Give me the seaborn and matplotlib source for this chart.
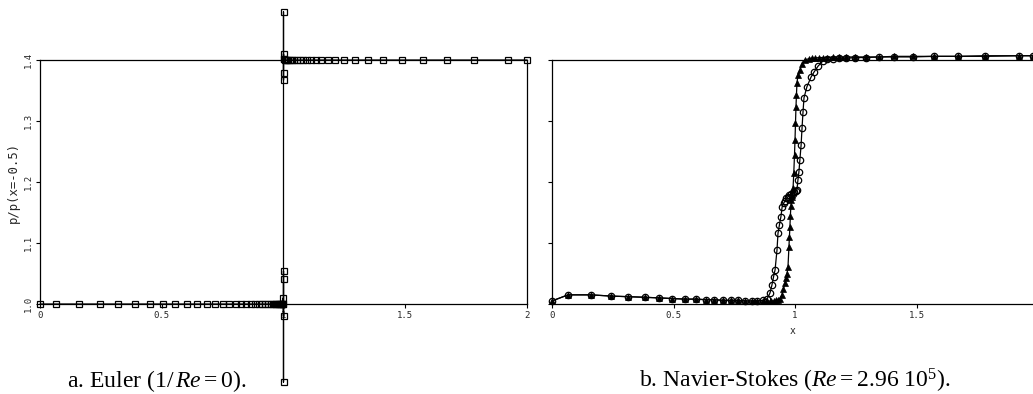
import matplotlib
matplotlib.use("Agg")
import matplotlib.pyplot as plt
import seaborn as sns
import pandas as pd

# ---------------- data ----------------
# (a) Euler solution, 1/Re = 0  (square markers)
euler_x = [0.0, 0.066, 0.16, 0.246, 0.32, 0.39, 0.45, 0.505, 0.554, 0.604, 0.645, 0.686,
           0.719, 0.75, 0.778, 0.803, 0.826, 0.847, 0.866, 0.883, 0.899, 0.913, 0.926,
           0.937, 0.947, 0.956, 0.964, 0.971, 0.977, 0.982, 0.986, 0.99, 0.993, 0.996,
           0.998, 0.999, 1.0, 1.0, 1.0, 1.0, 1.0, 1.0, 1.0, 1.0, 1.001, 1.002, 1.005,
           1.009, 1.014, 1.02, 1.027, 1.035, 1.045, 1.056, 1.068, 1.082, 1.097, 1.114,
           1.133, 1.155, 1.183, 1.211, 1.248, 1.294, 1.347, 1.409, 1.487, 1.573, 1.671,
           1.782, 1.922, 2.0]
euler_y = [1.0, 1.0, 1.0, 1.0, 1.0, 1.0, 1.0, 1.0, 1.0, 1.0, 1.0, 1.0,
           1.0, 1.0, 1.0, 1.0, 1.0, 1.0, 1.0, 1.0, 1.0, 1.0, 1.0,
           1.0, 1.0, 1.0, 1.0, 1.0, 1.0, 1.0, 1.0, 1.0, 1.0, 1.0,
           1.0, 1.01, 0.98, 1.054, 1.041, 0.872, 1.479, 1.367, 1.379, 1.41, 1.402, 1.401, 1.4,
           1.4, 1.4, 1.4, 1.4, 1.4, 1.4, 1.4, 1.4, 1.4, 1.4, 1.4,
           1.4, 1.4, 1.4, 1.4, 1.4, 1.4, 1.4, 1.4, 1.4, 1.4, 1.4,
           1.4, 1.4, 1.4]

# (b) Navier-Stokes, Re = 2.96e5 : open circles
ns_circ_x = [0.0, 0.066, 0.16, 0.243, 0.313, 0.383, 0.44, 0.494, 0.547, 0.593, 0.634, 0.667,
             0.704, 0.737, 0.765, 0.794, 0.823, 0.844, 0.868, 0.885, 0.897, 0.905, 0.912,
             0.918, 0.926, 0.93, 0.936, 0.942, 0.947, 0.953, 0.959, 0.965, 0.971, 0.977,
             0.983, 0.99, 0.997, 1.003, 1.008, 1.012, 1.016, 1.02, 1.025, 1.029, 1.033,
             1.037, 1.049, 1.066, 1.078, 1.095, 1.114, 1.133, 1.155, 1.183, 1.211, 1.248,
             1.294, 1.347, 1.409, 1.487, 1.573, 1.671, 1.782, 1.922, 1.98]
ns_circ_y = [1.005, 1.015, 1.015, 1.013, 1.012, 1.011, 1.01, 1.009, 1.008, 1.008, 1.007, 1.007,
             1.006, 1.006, 1.006, 1.005, 1.005, 1.005, 1.006, 1.008, 1.018, 1.031, 1.045,
             1.056, 1.089, 1.116, 1.13, 1.143, 1.159, 1.165, 1.169, 1.173, 1.176, 1.178,
             1.18, 1.181, 1.183, 1.185, 1.187, 1.203, 1.216, 1.236, 1.26, 1.289, 1.315,
             1.338, 1.356, 1.372, 1.38, 1.39, 1.398, 1.401, 1.402, 1.403, 1.403, 1.404,
             1.404, 1.405, 1.405, 1.405, 1.406, 1.406, 1.406, 1.407, 1.407]

# (b) Navier-Stokes : filled triangles
ns_tri_x = [0.0, 0.066, 0.16, 0.243, 0.313, 0.383, 0.44, 0.494, 0.547, 0.593, 0.634, 0.667,
            0.704, 0.737, 0.765, 0.794, 0.823, 0.844, 0.868, 0.885, 0.9, 0.912, 0.922,
            0.932, 0.94, 0.946, 0.952, 0.959, 0.963, 0.967, 0.971, 0.975, 0.977, 0.979,
            0.981, 0.983, 0.985, 0.987, 0.989, 0.992, 0.995, 0.998, 1.0, 1.002, 1.004,
            1.006, 1.008, 1.012, 1.02, 1.03, 1.04, 1.056, 1.068, 1.082, 1.097, 1.114,
            1.133, 1.155, 1.183, 1.211, 1.248, 1.294, 1.347, 1.409, 1.487, 1.573, 1.671,
            1.782, 1.922, 1.98]
ns_tri_y = [1.005, 1.015, 1.015, 1.013, 1.012, 1.011, 1.01, 1.009, 1.008, 1.008, 1.007, 1.007,
            1.006, 1.006, 1.006, 1.005, 1.005, 1.005, 1.005, 1.005, 1.005, 1.005, 1.006,
            1.007, 1.009, 1.015, 1.024, 1.034, 1.042, 1.05, 1.06, 1.093, 1.11, 1.126,
            1.145, 1.16, 1.17, 1.175, 1.178, 1.19, 1.215, 1.245, 1.269, 1.296, 1.323,
            1.343, 1.362, 1.375, 1.384, 1.394, 1.4, 1.402, 1.403, 1.403, 1.404, 1.404,
            1.404, 1.405, 1.405, 1.405, 1.405, 1.405, 1.405, 1.406, 1.406, 1.406, 1.406,
            1.407, 1.407, 1.407]

xticks = [0, 0.5, 1, 1.5, 2]
xtick_labels = ["0", "0.5", "1", "1.5", "2"]
yticks = [1.0, 1.1, 1.2, 1.3, 1.4]
ytick_labels = ["1.0", "1.1", "1.2", "1.3", "1.4"]
ylabel = "p/p(x=-0.5)"
xlabel = "x"
caption_a = r"a. Euler (1/$\,\mathit{Re}=0$)."
caption_b = r"b. Navier-Stokes ($\mathit{Re}=2.96\ 10^5$)."

# ---------------- style ----------------
sns.set_theme(style="white")
plt.rcParams["font.family"] = ["DejaVu Sans Mono", "DejaVu Sans"]
plt.rcParams["mathtext.fontset"] = "custom"
plt.rcParams["mathtext.rm"] = "Liberation Serif"
plt.rcParams["mathtext.it"] = "Liberation Serif:italic"
plt.rcParams["axes.linewidth"] = 0.9
plt.rcParams["axes.edgecolor"] = "black"

W, H = 1033, 394
fig = plt.figure(figsize=(W / 100, H / 100), dpi=100)

def fx(px):
    return px / W

def fy(py):
    return 1 - py / H

ax_bottom = fy(304)
ax_h = fy(60) - fy(304)
axA = fig.add_axes([fx(40), ax_bottom, fx(527) - fx(40), ax_h])
axB = fig.add_axes([fx(552), ax_bottom, fx(1033) - fx(552), ax_h])

line_kw = dict(color="black", linewidth=0.9, sort=False, estimator=None, clip_on=False)

dfA = pd.DataFrame({"x": euler_x, "y": euler_y})
sns.lineplot(data=dfA, x="x", y="y", ax=axA, marker="s", markersize=4.2,
             markerfacecolor="none", markeredgecolor="black", markeredgewidth=0.9,
             **line_kw)

dfC = pd.DataFrame({"x": ns_circ_x, "y": ns_circ_y})
dfT = pd.DataFrame({"x": ns_tri_x, "y": ns_tri_y})
sns.lineplot(data=dfC, x="x", y="y", ax=axB, marker="o", markersize=4.6,
             markerfacecolor="none", markeredgecolor="black", markeredgewidth=0.9,
             **line_kw)
sns.lineplot(data=dfT, x="x", y="y", ax=axB, marker="^", markersize=4.6,
             markerfacecolor="black", markeredgecolor="black", markeredgewidth=0.5,
             **line_kw)

for ax in (axA, axB):
    ax.set_ylim(1.0, 1.4)
    ax.set_xticks(xticks)
    ax.set_yticks(yticks)
    ax.tick_params(axis="both", direction="out", length=3, width=0.8,
                   color="black", labelsize=6.5, pad=2, bottom=True, left=True)
    for s in ax.spines.values():
        s.set_color("black")
    ax.set_facecolor("white")

axA.set_xlim(0, 2)
axA.set_xticklabels(xtick_labels)
axA.set_yticklabels(ytick_labels, rotation=90, va="center")
axA.set_xlabel("")
axA.set_ylabel(ylabel, fontsize=8.8, labelpad=3)

axB.set_xlim(0, 481 / 243.0)
axB.set_xticklabels(xtick_labels)
axB.set_yticklabels([])
axB.spines["right"].set_visible(False)
axB.set_ylabel("")
axB.set_xlabel(xlabel, fontsize=7, labelpad=4)

fig.text(fx(157), fy(381), caption_a, ha="center", va="center",
         fontsize=17, family="Liberation Serif", color="black")
fig.text(fx(795), fy(381), caption_b, ha="center", va="center",
         fontsize=17, family="Liberation Serif", color="black")

fig.savefig("out.png", dpi=100, facecolor="white")
